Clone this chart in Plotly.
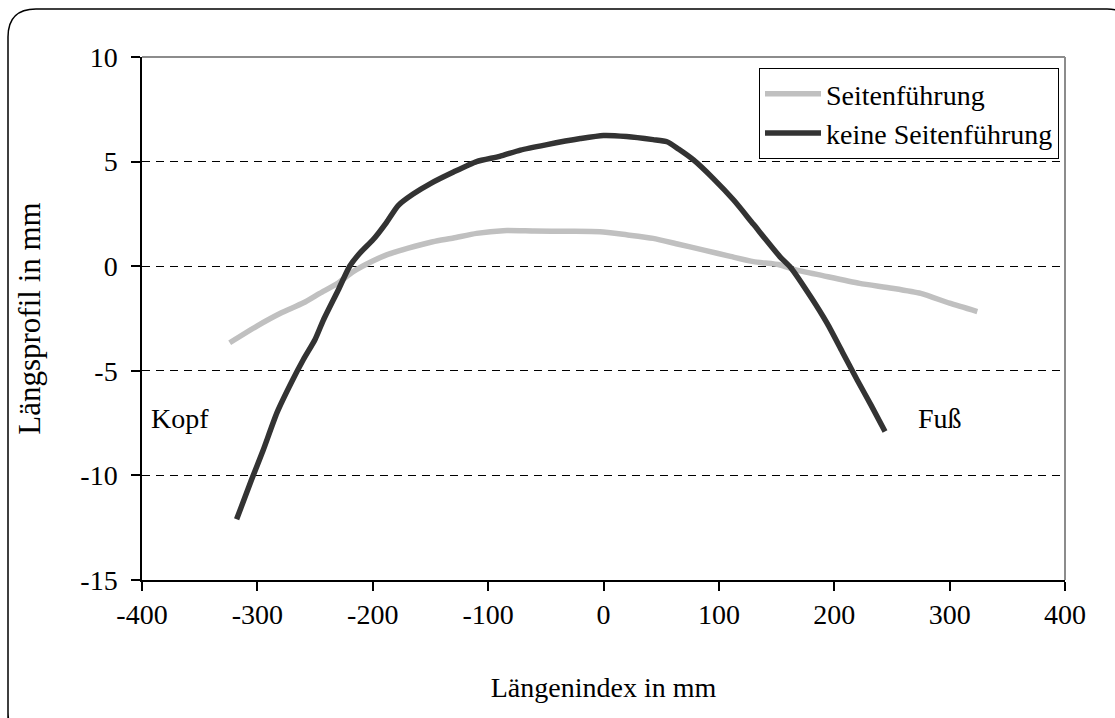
import plotly.graph_objects as go

# Längsprofil measurements (x: Längenindex in mm, y: Längsprofil in mm)
seiten_x = [-324, -300, -280, -260, -246, -230, -217, -200, -188, -170, -148, -130,
            -110, -87, -60, -30, -3, 20, 43, 65, 87, 110, 130, 153, 165, 190, 222,
            250, 275, 300, 324]
seiten_y = [-3.66, -2.85, -2.25, -1.75, -1.3, -0.8, -0.26, 0.25, 0.54, 0.85, 1.17, 1.35,
            1.57, 1.7, 1.68, 1.67, 1.65, 1.5, 1.33, 1.05, 0.77, 0.47, 0.22, 0.06, -0.15,
            -0.45, -0.82, -1.05, -1.3, -1.77, -2.17]

keine_x = [-318, -305, -295, -283, -270, -260, -250, -243, -230, -220, -210, -200,
           -188, -178, -165, -150, -130, -110, -90, -72, -50, -20, 0, 20, 43, 55, 65,
           78, 95, 113, 130, 153, 162, 180, 194, 207, 220, 232, 244]
keine_y = [-12.1, -10.2, -8.8, -7.0, -5.5, -4.45, -3.5, -2.6, -1.15, 0.0, 0.7, 1.25,
           2.1, 2.9, 3.45, 3.95, 4.5, 5.0, 5.25, 5.55, 5.8, 6.1, 6.25, 6.2, 6.05, 5.95, 5.6,
           5.08, 4.2, 3.15, 2.0, 0.45, -0.05, -1.5, -2.75, -4.1, -5.45, -6.65, -7.9]

series_names = ["Seitenführung", "keine Seitenführung"]
x_ticks = [-400, -300, -200, -100, 0, 100, 200, 300, 400]
x_tick_labels = ["-400", "-300", "-200", "-100", "0", "100", "200", "300", "400"]
y_ticks = [-15, -10, -5, 0, 5, 10]
y_tick_labels = ["-15", "-10", "-5", "0", "5", "10"]

FONT = "Liberation Serif, Times New Roman, serif"
FS = 28

fig = go.Figure()
fig.add_trace(go.Scatter(x=seiten_x, y=seiten_y, mode="lines", name=series_names[0],
                         line=dict(color="#c0c0c0", width=5.5, shape="spline", smoothing=0.6)))
fig.add_trace(go.Scatter(x=keine_x, y=keine_y, mode="lines", name=series_names[1],
                         line=dict(color="#333333", width=5.5, shape="spline", smoothing=0.6)))

# end labels of the profile
fig.add_annotation(x=-394, y=-7.3, text="Kopf", showarrow=False, xanchor="left",
                   font=dict(family=FONT, size=FS, color="black"))
fig.add_annotation(x=271, y=-7.3, text="Fuß", showarrow=False, xanchor="left",
                   font=dict(family=FONT, size=FS, color="black"))

# grey top/right border of the plot area
fig.add_shape(type="line", xref="paper", yref="paper", x0=0, y0=1, x1=1, y1=1,
              line=dict(color="#8c8c8c", width=2), layer="below")
fig.add_shape(type="line", xref="paper", yref="paper", x0=1, y0=0, x1=1, y1=1,
              line=dict(color="#8c8c8c", width=2), layer="below")

# rounded outer frame
pw, ph = 923.0, 523.0
fx0, fy0 = (8 - 142) / pw, (580 - 9) / ph
fx1, fy1 = (1135 - 142) / pw, (580 - 740) / ph
rx, ry = 28 / pw, 28 / ph
frame = (f"M {fx0},{fy1} L {fx0},{fy0 - ry} Q {fx0},{fy0} {fx0 + rx},{fy0} "
         f"L {fx1 - rx},{fy0} Q {fx1},{fy0} {fx1},{fy0 - ry} L {fx1},{fy1 + ry} "
         f"Q {fx1},{fy1} {fx1 - rx},{fy1} L {fx0 + rx},{fy1} Q {fx0},{fy1} {fx0},{fy1 + ry} Z")
fig.add_shape(type="path", xref="paper", yref="paper", path=frame,
              line=dict(color="black", width=1.5))

fig.update_layout(
    width=1115, height=718, autosize=False,
    margin=dict(l=142, r=50, t=57, b=138),
    paper_bgcolor="white", plot_bgcolor="white",
    font=dict(family=FONT, size=FS, color="black"),
    showlegend=True,
    legend=dict(x=0.9935, y=0.979, xanchor="right", yanchor="top",
                bgcolor="white", bordercolor="black", borderwidth=1,
                font=dict(family=FONT, size=FS, color="black"),
                itemwidth=56, tracegroupgap=0),
    xaxis=dict(range=[-400, 400], tickvals=x_ticks, ticktext=x_tick_labels,
               showline=True, linecolor="black", linewidth=1.5,
               ticks="outside", ticklen=9, tickcolor="black", tickwidth=1.5,
               showgrid=False, zeroline=False,
               title=dict(text="Längenindex in mm", standoff=48,
                          font=dict(family=FONT, size=FS))),
    yaxis=dict(range=[-15, 10], tickvals=y_ticks, ticktext=y_tick_labels,
               showline=True, linecolor="black", linewidth=1.5,
               ticks="outside", ticklen=9, tickcolor="black", tickwidth=1.5,
               ticklabelstandoff=8,
               showgrid=True, gridcolor="black", gridwidth=1, griddash="8px,6px",
               zeroline=False,
               title=dict(text="Längsprofil in mm", standoff=30,
                          font=dict(family=FONT, size=31))),
)

fig.write_html("out.html")
